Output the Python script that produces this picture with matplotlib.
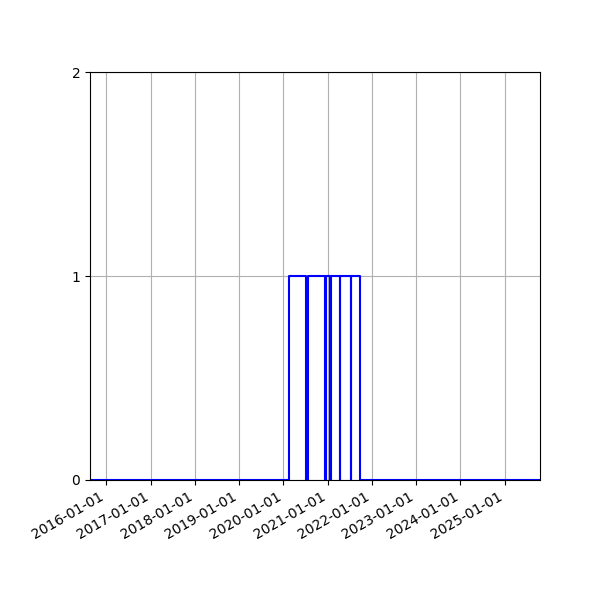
import matplotlib
matplotlib.use("Agg")
import matplotlib.pyplot as plt
import matplotlib.dates as mdates
import numpy as np

# step series: value holds from each date until the next one
dates = ["2015-08-18", "2020-02-19", "2020-07-08", "2020-07-22",
         "2020-12-11", "2020-12-19", "2021-01-22", "2021-01-25",
         "2021-04-12", "2021-04-15", "2021-07-09", "2021-07-12",
         "2021-09-26", "2025-10-20"]
values = [0, 1, 0, 1, 0, 1, 0, 1, 0, 1, 0, 1, 0, 0]

years = [f"{y}-01-01" for y in range(2016, 2026)]

x = np.array(dates, dtype="datetime64[D]")

fig, ax = plt.subplots(figsize=(6, 6), dpi=100)
ax.step(x, values, where="post", color="blue", linewidth=1.5)

ax.set_xlim(x[0], x[-1])
ax.set_ylim(0, 2)
ax.set_yticks([0, 1, 2])
ax.set_xticks(np.array(years, dtype="datetime64[D]"))
ax.xaxis.set_major_formatter(mdates.DateFormatter("%Y-%m-%d"))
ax.grid(True)

fig.autofmt_xdate()
fig.subplots_adjust(left=0.15, right=0.9, top=0.88, bottom=0.2)
fig.savefig("out.png", dpi=100)
